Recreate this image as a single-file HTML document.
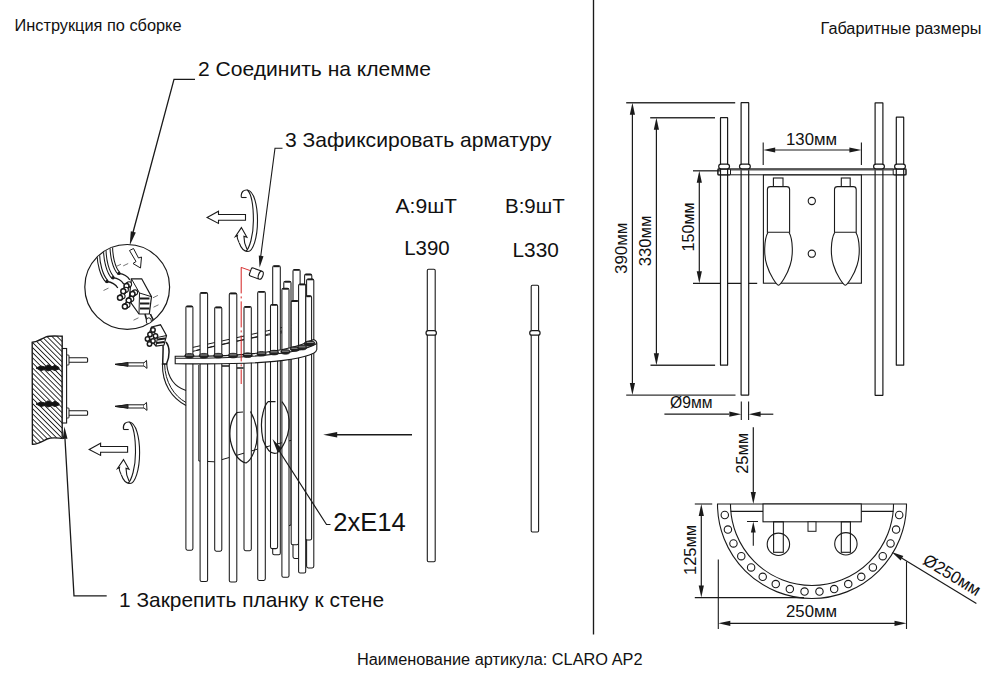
<!DOCTYPE html>
<html><head><meta charset="utf-8"><style>
html,body{margin:0;padding:0;background:#fff;}
svg{display:block;}
text{font-family:"Liberation Sans",sans-serif;fill:#111;}
</style></head><body>
<svg width="1000" height="690" viewBox="0 0 1000 690">
<rect width="1000" height="690" fill="#fff"/>
<text x="14.5" y="30.6" font-size="16" text-anchor="start" textLength="167" lengthAdjust="spacingAndGlyphs"  >Инструкция по сборке</text>
<text x="820.5" y="33.8" font-size="16" text-anchor="start" textLength="161" lengthAdjust="spacingAndGlyphs"  >Габаритные размеры</text>
<text x="357" y="664.6" font-size="16" text-anchor="start" textLength="285.5" lengthAdjust="spacingAndGlyphs"  >Наименование артикула: CLARO AP2</text>
<line x1="593.5" y1="0" x2="593.5" y2="634.5" stroke="#1a1a1a" stroke-width="1.35" />
<text x="198" y="76" font-size="21" text-anchor="start" textLength="233" lengthAdjust="spacingAndGlyphs"  >2 Соединить на клемме</text>
<text x="285" y="146.6" font-size="21" text-anchor="start" textLength="266.5" lengthAdjust="spacingAndGlyphs"  >3 Зафиксировать арматуру</text>
<text x="119" y="607.2" font-size="21" text-anchor="start" textLength="265" lengthAdjust="spacingAndGlyphs"  >1 Закрепить планку к стене</text>
<polyline points="195,79.4 174,79.4 131.5,238" stroke="#1a1a1a" stroke-width="1.3" fill="none" stroke-linejoin="miter"/>
<polygon points="129.70,245.40 130.80,231.20 135.82,232.54" fill="#1a1a1a"/>
<polyline points="282.5,148.2 275,148.2 260.5,258" stroke="#1a1a1a" stroke-width="1.1" fill="none" stroke-linejoin="miter"/>
<polygon points="259.60,267.80 258.75,255.59 263.51,256.20" fill="#1a1a1a"/>
<polyline points="106.7,595.8 74,595.8 65,439" stroke="#1a1a1a" stroke-width="1.3" fill="none" stroke-linejoin="miter"/>
<polygon points="64.40,426.50 67.50,438.84 62.71,439.12" fill="#1a1a1a"/>
<circle cx="127.2" cy="286.9" r="42.4" fill="white" stroke="#1a1a1a" stroke-width="1.2"/>
<defs><clipPath id="cc"><circle cx="127.2" cy="286.9" r="42.1"/></clipPath></defs><g clip-path="url(#cc)">
<path d="M98.3,250 C97.8,264 102,276.5 107,281.5" stroke="#1a1a1a" stroke-width="3.6" fill="none" />
<path d="M98.3,250 C97.8,264 102,276.5 107,281.5" stroke="white" stroke-width="1.5" fill="none" />
<path d="M104.8,246 C104.3,260 108,272.7 113,277.7" stroke="#1a1a1a" stroke-width="3.6" fill="none" />
<path d="M104.8,246 C104.3,260 108,272.7 113,277.7" stroke="white" stroke-width="1.5" fill="none" />
<path d="M111.3,242 C110.8,256 114,268.4 119,273.4" stroke="#1a1a1a" stroke-width="3.6" fill="none" />
<path d="M111.3,242 C110.8,256 114,268.4 119,273.4" stroke="white" stroke-width="1.5" fill="none" />
<circle cx="107" cy="281.5" r="1.7" fill="#1a1a1a"/>
<path d="M107,281.5 C111,282.0 115,283.5 117.8,288.0" stroke="#1a1a1a" stroke-width="1.3" fill="none" />
<circle cx="113" cy="277.7" r="1.7" fill="#1a1a1a"/>
<path d="M113,277.7 C117,278.2 121,279.7 123.8,284.2" stroke="#1a1a1a" stroke-width="1.3" fill="none" />
<circle cx="119" cy="273.4" r="1.7" fill="#1a1a1a"/>
<path d="M119,273.4 C123,273.9 127,275.4 129.8,279.9" stroke="#1a1a1a" stroke-width="1.3" fill="none" />
<path d="M131.4,278.8 L141.7,278.8 L151.5,296.7 L149.3,314 L139,314 L129,300 Z" stroke="#1a1a1a" stroke-width="1.2" fill="white" />
<path d="M131.4,278.8 L139.5,293 L151.5,296.7 M139.5,293 L139,314" stroke="#1a1a1a" stroke-width="1.0" fill="none" />
<line x1="140" y1="298.5" x2="149.5" y2="298.5" stroke="#1a1a1a" stroke-width="1.8" />
<line x1="140" y1="303.5" x2="149.5" y2="303.5" stroke="#1a1a1a" stroke-width="1.8" />
<line x1="140" y1="308.5" x2="149.5" y2="308.5" stroke="#1a1a1a" stroke-width="1.8" />
<circle cx="129.1" cy="284.29999999999995" r="2.5" fill="white" stroke="#1a1a1a" stroke-width="1.1"/>
<path d="M125.3,283.7 L127.9,282.09999999999997 M127.7,288.09999999999997 L130.3,286.5" stroke="#1a1a1a" stroke-width="1.1"/>
<circle cx="126.5" cy="285.9" r="2.5" fill="white" stroke="#1a1a1a" stroke-width="1.5"/>
<circle cx="125.89999999999999" cy="289.7" r="2.5" fill="white" stroke="#1a1a1a" stroke-width="1.1"/>
<path d="M122.1,289.1 L124.7,287.5 M124.5,293.5 L127.1,291.90000000000003" stroke="#1a1a1a" stroke-width="1.1"/>
<circle cx="123.3" cy="291.3" r="2.5" fill="white" stroke="#1a1a1a" stroke-width="1.5"/>
<circle cx="135.1" cy="292.4" r="2.5" fill="white" stroke="#1a1a1a" stroke-width="1.1"/>
<path d="M131.3,291.8 L133.9,290.2 M133.7,296.2 L136.3,294.6" stroke="#1a1a1a" stroke-width="1.1"/>
<circle cx="132.5" cy="294" r="2.5" fill="white" stroke="#1a1a1a" stroke-width="1.5"/>
<circle cx="122.6" cy="296.2" r="2.5" fill="white" stroke="#1a1a1a" stroke-width="1.1"/>
<path d="M118.8,295.6 L121.4,294.0 M121.2,300.0 L123.8,298.40000000000003" stroke="#1a1a1a" stroke-width="1.1"/>
<circle cx="120" cy="297.8" r="2.5" fill="white" stroke="#1a1a1a" stroke-width="1.5"/>
<circle cx="131.29999999999998" cy="298.9" r="2.5" fill="white" stroke="#1a1a1a" stroke-width="1.1"/>
<path d="M127.49999999999999,298.3 L130.1,296.7 M129.89999999999998,302.7 L132.5,301.1" stroke="#1a1a1a" stroke-width="1.1"/>
<circle cx="128.7" cy="300.5" r="2.5" fill="white" stroke="#1a1a1a" stroke-width="1.5"/>
<circle cx="127.5" cy="304.9" r="2.5" fill="white" stroke="#1a1a1a" stroke-width="1.1"/>
<path d="M123.7,304.3 L126.30000000000001,302.7 M126.10000000000001,308.7 L128.70000000000002,307.1" stroke="#1a1a1a" stroke-width="1.1"/>
<circle cx="124.9" cy="306.5" r="2.5" fill="white" stroke="#1a1a1a" stroke-width="1.5"/>
<path d="M145,314 C146,318 147,321 148.3,325 M150.4,314 C152,318 154,321 155.9,325" stroke="#1a1a1a" stroke-width="1.6" fill="none" />
<ellipse cx="148.8" cy="321" rx="2.6" ry="3.2" fill="white" stroke="#1a1a1a" stroke-width="1"/>
<path d="M129.5,250.5 L133.5,248.5 L138.5,258 L141.5,257 L140.5,268 L133,263.5 L136,261.5 Z" stroke="#1a1a1a" stroke-width="1.0" fill="white" />
<line x1="116.0" y1="266.59999999999997" x2="121.0" y2="264.2" stroke="#666" stroke-width="0.9"/>
<line x1="123.2" y1="265.9" x2="128.2" y2="263.5" stroke="#666" stroke-width="0.9"/>
<line x1="103.5" y1="290.5" x2="108.5" y2="288.1" stroke="#666" stroke-width="0.9"/>
<line x1="152.9" y1="297.8" x2="157.9" y2="295.40000000000003" stroke="#666" stroke-width="0.9"/>
<line x1="153.5" y1="307.2" x2="158.5" y2="304.8" stroke="#666" stroke-width="0.9"/>
<line x1="133.5" y1="320.2" x2="138.5" y2="317.8" stroke="#666" stroke-width="0.9"/>
</g>
<defs><pattern id="hatch" patternUnits="userSpaceOnUse" width="3.6" height="3.6" patternTransform="rotate(-45)"><line x1="0" y1="0" x2="0" y2="3.6" stroke="#111" stroke-width="1.7"/></pattern></defs>
<path d="M32.2,342.3 C38,342 41,339 46,336.8 C50,335.5 56,336 62.2,336.2 L62.2,438.4 C57,438 52,437 47,439 C41,442 37,444.5 32.4,444.2 Z" stroke="#1a1a1a" stroke-width="1.4" fill="url(#hatch)" />
<path d="M36,368 L41,366 L45,367 L48,364.8 L52,366.8 L55,365.2 L59,367.5 L59,369 L55,370.5 L52,369.5 L48,371 L45,369.5 L41,370.5 Z" stroke="#1a1a1a" stroke-width="1.0" fill="#111" />
<path d="M36,404 L41,402 L45,403 L48,400.8 L52,402.8 L55,401.2 L59,403.5 L59,405 L55,406.5 L52,405.5 L48,407 L45,405.5 L41,406.5 Z" stroke="#1a1a1a" stroke-width="1.0" fill="#111" />
<rect x="62.3" y="348.5" width="4.3" height="74.5" fill="white" stroke="#1a1a1a" stroke-width="1.1"/>
<rect x="66.6" y="357.8" width="21" height="4.4" rx="1" fill="white" stroke="#1a1a1a" stroke-width="1.1"/>
<rect x="66.6" y="355" width="2.4" height="10" rx="0.8" fill="white" stroke="#1a1a1a" stroke-width="1.0"/>
<rect x="66.6" y="410.8" width="21" height="4.4" rx="1" fill="white" stroke="#1a1a1a" stroke-width="1.1"/>
<rect x="66.6" y="408" width="2.4" height="10" rx="0.8" fill="white" stroke="#1a1a1a" stroke-width="1.0"/>
<path d="M115,364.4 L128,362.79999999999995 L144,362.79999999999995 L144,366.0 L128,366.0 Z" stroke="#1a1a1a" stroke-width="1.0" fill="white" />
<path d="M115,364.4 L128,362.59999999999997 L128,366.2 Z" stroke="#1a1a1a" stroke-width="1.0" fill="#333" />
<path d="M144,362.79999999999995 L146.5,360.4 L147,368.4 L144,366.0" stroke="#1a1a1a" stroke-width="1.0" fill="white" />
<path d="M115,406.4 L128,404.79999999999995 L144,404.79999999999995 L144,408.0 L128,408.0 Z" stroke="#1a1a1a" stroke-width="1.0" fill="white" />
<path d="M115,406.4 L128,404.59999999999997 L128,408.2 Z" stroke="#1a1a1a" stroke-width="1.0" fill="#333" />
<path d="M144,404.79999999999995 L146.5,402.4 L147,410.4 L144,408.0" stroke="#1a1a1a" stroke-width="1.0" fill="white" />
<g transform="translate(0.00,0.00)" stroke="#1a1a1a" stroke-width="1.1" fill="white">
<path d="M89.2,449.6 L100.6,443.3 L100.6,446.5 L127.6,446.5 L127.6,452.2 L100.6,452.2 L100.6,455.4 Z"/>
<path d="M123.5,429.5 C122.5,424 126,421.5 129.5,422 C136,423 139.6,437 139.6,452.5 C139.6,470 135,483.5 130,483.5 C126,483.5 123,480 121,474" fill="none"/>
<path d="M129.5,422 C133.5,426 135.5,438 135.5,452.5 C135.5,468 131.5,480 128,483.5" fill="none"/>
<path d="M123.5,429.5 L128.7,429.5" fill="none"/>
<path d="M121,474 C119.5,471 119,469 119.5,467.5 L117.5,468.5 L123.5,459.6 L129,469.3 L126,468.3 C126,472 127,477 129,481" fill="white"/>
</g>
<g transform="translate(117.90,-232.00)" stroke="#1a1a1a" stroke-width="1.1" fill="white">
<path d="M89.2,449.6 L100.6,443.3 L100.6,446.5 L127.6,446.5 L127.6,452.2 L100.6,452.2 L100.6,455.4 Z"/>
<path d="M123.5,429.5 C122.5,424 126,421.5 129.5,422 C136,423 139.6,437 139.6,452.5 C139.6,470 135,483.5 130,483.5 C126,483.5 123,480 121,474" fill="none"/>
<path d="M129.5,422 C133.5,426 135.5,438 135.5,452.5 C135.5,468 131.5,480 128,483.5" fill="none"/>
<path d="M123.5,429.5 L128.7,429.5" fill="none"/>
<path d="M121,474 C119.5,471 119,469 119.5,467.5 L117.5,468.5 L123.5,459.6 L129,469.3 L126,468.3 C126,472 127,477 129,481" fill="white"/>
</g>
<line x1="337" y1="434.8" x2="412" y2="434.8" stroke="#1a1a1a" stroke-width="1.5" />
<polygon points="323.20,434.80 337.20,432.00 337.20,437.60" fill="#1a1a1a"/>
<text x="395.5" y="213.2" font-size="20" text-anchor="start" textLength="61.5" lengthAdjust="spacingAndGlyphs"  >A:9шТ</text>
<text x="505" y="213.2" font-size="20" text-anchor="start" textLength="59.7" lengthAdjust="spacingAndGlyphs"  >B:9шТ</text>
<text x="404.2" y="254.5" font-size="20" text-anchor="start" textLength="45.5" lengthAdjust="spacingAndGlyphs"  >L390</text>
<text x="512.5" y="257" font-size="20" text-anchor="start" textLength="46.3" lengthAdjust="spacingAndGlyphs"  >L330</text>
<rect x="427.3" y="269.2" width="7.899999999999977" height="292.50000000000006" rx="1.2" fill="white" stroke="#1a1a1a" stroke-width="1.1"/>
<rect x="531.2" y="285.2" width="7.399999999999977" height="246.8" rx="1.2" fill="white" stroke="#1a1a1a" stroke-width="1.1"/>
<rect x="426.0" y="330.6" width="10.4" height="4.6" rx="2.3" fill="white" stroke="#1a1a1a" stroke-width="1.2"/>
<rect x="529.6999999999999" y="330.6" width="10.4" height="4.6" rx="2.3" fill="white" stroke="#1a1a1a" stroke-width="1.2"/>
<path d="M190,352 C220,345 260,336 311,324.5" stroke="#1a1a1a" stroke-width="1.0" fill="none" />
<path d="M190,348 C222,341 262,332 311,321" stroke="#1a1a1a" stroke-width="1.0" fill="none" />
<path d="M196,350.5 C224,343.5 262,335 311,328.5" stroke="#1a1a1a" stroke-width="1.0" fill="none" />
<rect x="272.7" y="265.8" width="7.60" height="289.0" rx="1.6" fill="white" stroke="#1a1a1a" stroke-width="1.05"/>
<line x1="273.5" y1="266.40000000000003" x2="279.5" y2="266.40000000000003" stroke="#1a1a1a" stroke-width="1.6"/>
<rect x="293.0" y="269.4" width="7.10" height="289.0" rx="1.6" fill="white" stroke="#1a1a1a" stroke-width="1.05"/>
<line x1="293.8" y1="270.0" x2="299.3" y2="270.0" stroke="#1a1a1a" stroke-width="1.6"/>
<rect x="304.6" y="274.1" width="7.20" height="244.2" rx="1.6" fill="white" stroke="#1a1a1a" stroke-width="1.05"/>
<line x1="305.40000000000003" y1="274.70000000000005" x2="311.0" y2="274.70000000000005" stroke="#1a1a1a" stroke-width="1.6"/>
<rect x="283.8" y="281.3" width="7.20" height="244.2" rx="1.6" fill="white" stroke="#1a1a1a" stroke-width="1.05"/>
<line x1="284.6" y1="281.90000000000003" x2="290.2" y2="281.90000000000003" stroke="#1a1a1a" stroke-width="1.6"/>
<rect x="306.6" y="278.9" width="7.20" height="289.0" rx="1.6" fill="white" stroke="#1a1a1a" stroke-width="1.05"/>
<line x1="307.40000000000003" y1="279.5" x2="313.0" y2="279.5" stroke="#1a1a1a" stroke-width="1.6"/>
<path d="M198.8,365 L198.8,461 L214.4,461.8 L229.6,457.4 L257.3,449.2 L300,438" stroke="#1a1a1a" stroke-width="1.0" fill="none" />
<path d="M221.7,366 L229.6,366 M236.5,368 L243.5,368" stroke="#1a1a1a" stroke-width="1.4" fill="none" />
<rect x="185.9" y="306.0" width="7.00" height="244.2" rx="1.6" fill="white" stroke="#1a1a1a" stroke-width="1.05"/>
<line x1="186.70000000000002" y1="306.6" x2="192.1" y2="306.6" stroke="#1a1a1a" stroke-width="1.6"/>
<rect x="200.1" y="292.5" width="7.50" height="289.0" rx="1.6" fill="white" stroke="#1a1a1a" stroke-width="1.05"/>
<line x1="200.9" y1="293.1" x2="206.79999999999998" y2="293.1" stroke="#1a1a1a" stroke-width="1.6"/>
<rect x="214.7" y="307.0" width="7.10" height="244.2" rx="1.6" fill="white" stroke="#1a1a1a" stroke-width="1.05"/>
<line x1="215.5" y1="307.6" x2="221.0" y2="307.6" stroke="#1a1a1a" stroke-width="1.6"/>
<rect x="229.3" y="293.0" width="7.50" height="289.0" rx="1.6" fill="white" stroke="#1a1a1a" stroke-width="1.05"/>
<line x1="230.10000000000002" y1="293.6" x2="236.0" y2="293.6" stroke="#1a1a1a" stroke-width="1.6"/>
<rect x="244.0" y="306.5" width="7.30" height="244.2" rx="1.6" fill="white" stroke="#1a1a1a" stroke-width="1.05"/>
<line x1="244.8" y1="307.1" x2="250.5" y2="307.1" stroke="#1a1a1a" stroke-width="1.6"/>
<rect x="257.7" y="291.4" width="7.60" height="289.0" rx="1.6" fill="white" stroke="#1a1a1a" stroke-width="1.05"/>
<line x1="258.5" y1="292.0" x2="264.5" y2="292.0" stroke="#1a1a1a" stroke-width="1.6"/>
<rect x="270.5" y="304.4" width="7.10" height="244.2" rx="1.6" fill="white" stroke="#1a1a1a" stroke-width="1.05"/>
<line x1="271.3" y1="305.0" x2="276.8" y2="305.0" stroke="#1a1a1a" stroke-width="1.6"/>
<rect x="281.9" y="288.3" width="7.10" height="289.0" rx="1.6" fill="white" stroke="#1a1a1a" stroke-width="1.05"/>
<line x1="282.7" y1="288.90000000000003" x2="288.2" y2="288.90000000000003" stroke="#1a1a1a" stroke-width="1.6"/>
<rect x="291.2" y="300.6" width="7.30" height="244.2" rx="1.6" fill="white" stroke="#1a1a1a" stroke-width="1.05"/>
<line x1="292.0" y1="301.20000000000005" x2="297.7" y2="301.20000000000005" stroke="#1a1a1a" stroke-width="1.6"/>
<rect x="298.6" y="284.0" width="7.10" height="289.0" rx="1.6" fill="white" stroke="#1a1a1a" stroke-width="1.05"/>
<line x1="299.40000000000003" y1="284.6" x2="304.9" y2="284.6" stroke="#1a1a1a" stroke-width="1.6"/>
<rect x="305.8" y="295.8" width="5.80" height="244.2" rx="1.6" fill="white" stroke="#1a1a1a" stroke-width="1.05"/>
<line x1="306.6" y1="296.40000000000003" x2="310.8" y2="296.40000000000003" stroke="#1a1a1a" stroke-width="1.6"/>
<path d="M175.2,356.2 C240,357 290,352 313.5,339.5 C316.5,340.5 316.8,342 316.8,343.5 L316.8,349.5 C316.5,351.5 315,352.5 313.5,353.3 C298,361 250,365 175.2,363.6 Z" stroke="#1a1a1a" stroke-width="1.1" fill="white" />
<path d="M175.2,358.2 C250,358.5 300,354 316.8,343.5" stroke="#1a1a1a" stroke-width="1.1" fill="none" />
<ellipse cx="189.40" cy="355.78" rx="4.6" ry="2.3" fill="#222" stroke="#1a1a1a" stroke-width="0.8"/>
<line x1="186.00" y1="355.08" x2="192.80" y2="355.08" stroke="#bbb" stroke-width="0.8"/>
<ellipse cx="203.85" cy="355.70" rx="4.6" ry="2.3" fill="#222" stroke="#1a1a1a" stroke-width="0.8"/>
<line x1="200.45" y1="355.00" x2="207.25" y2="355.00" stroke="#bbb" stroke-width="0.8"/>
<ellipse cx="218.25" cy="355.63" rx="4.6" ry="2.3" fill="#222" stroke="#1a1a1a" stroke-width="0.8"/>
<line x1="214.85" y1="354.93" x2="221.65" y2="354.93" stroke="#bbb" stroke-width="0.8"/>
<ellipse cx="233.05" cy="355.56" rx="4.6" ry="2.3" fill="#222" stroke="#1a1a1a" stroke-width="0.8"/>
<line x1="229.65" y1="354.86" x2="236.45" y2="354.86" stroke="#bbb" stroke-width="0.8"/>
<ellipse cx="247.65" cy="355.14" rx="4.6" ry="2.3" fill="#222" stroke="#1a1a1a" stroke-width="0.8"/>
<line x1="244.25" y1="354.44" x2="251.05" y2="354.44" stroke="#bbb" stroke-width="0.8"/>
<ellipse cx="261.50" cy="353.79" rx="4.6" ry="2.3" fill="#222" stroke="#1a1a1a" stroke-width="0.8"/>
<line x1="258.10" y1="353.09" x2="264.90" y2="353.09" stroke="#bbb" stroke-width="0.8"/>
<ellipse cx="274.05" cy="352.58" rx="4.6" ry="2.3" fill="#222" stroke="#1a1a1a" stroke-width="0.8"/>
<line x1="270.65" y1="351.88" x2="277.45" y2="351.88" stroke="#bbb" stroke-width="0.8"/>
<ellipse cx="285.45" cy="351.86" rx="4.6" ry="2.3" fill="#222" stroke="#1a1a1a" stroke-width="0.8"/>
<line x1="282.05" y1="351.16" x2="288.85" y2="351.16" stroke="#bbb" stroke-width="0.8"/>
<ellipse cx="294.85" cy="348.95" rx="4.6" ry="2.3" fill="#222" stroke="#1a1a1a" stroke-width="0.8"/>
<line x1="291.45" y1="348.25" x2="298.25" y2="348.25" stroke="#bbb" stroke-width="0.8"/>
<ellipse cx="302.15" cy="347.58" rx="4.6" ry="2.3" fill="#222" stroke="#1a1a1a" stroke-width="0.8"/>
<line x1="298.75" y1="346.88" x2="305.55" y2="346.88" stroke="#bbb" stroke-width="0.8"/>
<ellipse cx="308.70" cy="343.85" rx="4.6" ry="2.3" fill="#222" stroke="#1a1a1a" stroke-width="0.8"/>
<line x1="305.30" y1="343.15" x2="312.10" y2="343.15" stroke="#bbb" stroke-width="0.8"/>
<ellipse cx="310.20" cy="343.10" rx="4.6" ry="2.3" fill="#222" stroke="#1a1a1a" stroke-width="0.8"/>
<line x1="306.80" y1="342.40" x2="313.60" y2="342.40" stroke="#bbb" stroke-width="0.8"/>
<path d="M243,412 L237,412.5 C230,420 229,432 230.5,441 C233,452 238,461 246,463 C252,460 257,447 257.3,435 C257,424 253,416 250.5,411.5" stroke="#1a1a1a" stroke-width="1.2" fill="none" />
<path d="M268,401.7 L275.5,401.7 M282,401.7 C288,409 290,418 289,428 C288,437 283,448 277,453 C271,455 266,448 263,440 C261,430 261,420 263,413 C264,408 266,404 268,401.7" stroke="#1a1a1a" stroke-width="1.2" fill="none" />
<path d="M241.2,267.4 L241.2,384" stroke="#d42020" stroke-width="1.0" fill="none" stroke-dasharray="26,3,2,3"/>
<path d="M241.2,267.4 L250,270.5 L253,272" stroke="#d42020" stroke-width="0.9" fill="none" />
<g transform="translate(256,273.5) rotate(20)"><rect x="-6" y="-4.2" width="11" height="8.4" rx="1.5" fill="white" stroke="#1a1a1a" stroke-width="1.1"/><ellipse cx="5" cy="0" rx="2.2" ry="4.2" fill="white" stroke="#1a1a1a" stroke-width="1.1"/></g>
<polyline points="330.5,524.5 326.5,524.5 277,447.5" stroke="#1a1a1a" stroke-width="1.2" fill="none" stroke-linejoin="miter"/>
<polygon points="272.50,439.00 281.64,448.60 277.24,451.38" fill="#1a1a1a"/>
<text x="333.2" y="531" font-size="25" text-anchor="start" textLength="72.5" lengthAdjust="spacingAndGlyphs"  >2xE14</text>
<path d="M162.5,364 C162,384 172,398 186,405.5" stroke="#1a1a1a" stroke-width="1.1" fill="none" />
<path d="M164.6,364 C165,382 174,396 186,402.5" stroke="#1a1a1a" stroke-width="1.0" fill="none" />
<path d="M166.7,364 C168,378 175,387 186,390.5" stroke="#1a1a1a" stroke-width="1.1" fill="none" />
<path d="M161.8,364 L167.2,364" stroke="#1a1a1a" stroke-width="1.6" fill="none" />
<path d="M163,344 C163.5,352 162.5,358 162.8,364" stroke="#1a1a1a" stroke-width="1.5" fill="none" />
<path d="M166,342 C170,347 170,356 166.5,364" stroke="#1a1a1a" stroke-width="1.5" fill="none" />
<path d="M151.5,327 L160.5,324.8 L166.5,335.5 L164,345 L156,346 L148,337 Z" stroke="#1a1a1a" stroke-width="1.2" fill="white" />
<path d="M151.5,327 L157.5,337.5 L166.5,335.5 M157.5,337.5 L156,346" stroke="#1a1a1a" stroke-width="1.1" fill="none" />
<circle cx="153" cy="330" r="2.2" fill="white" stroke="#1a1a1a" stroke-width="1.5"/>
<circle cx="150" cy="334.5" r="2.2" fill="white" stroke="#1a1a1a" stroke-width="1.5"/>
<circle cx="155.5" cy="336" r="2.2" fill="white" stroke="#1a1a1a" stroke-width="1.5"/>
<circle cx="147.5" cy="339" r="2.2" fill="white" stroke="#1a1a1a" stroke-width="1.5"/>
<circle cx="153" cy="341" r="2.2" fill="white" stroke="#1a1a1a" stroke-width="1.5"/>
<circle cx="149.5" cy="344" r="2.2" fill="white" stroke="#1a1a1a" stroke-width="1.5"/>
<path d="M157.5,339.5 L165,338.5 M157,343 L164,342" stroke="#1a1a1a" stroke-width="1.8" fill="none" />
<line x1="626.2" y1="102.7" x2="735.2" y2="102.7" stroke="#333" stroke-width="1.4" />
<line x1="626.2" y1="395.1" x2="735.5" y2="395.1" stroke="#333" stroke-width="1.4" />
<line x1="632.4" y1="114" x2="632.4" y2="384" stroke="#1a1a1a" stroke-width="1.2" />
<polygon points="632.40,102.70 635.00,114.70 629.80,114.70" fill="#1a1a1a"/>
<polygon points="632.40,395.10 629.80,383.10 635.00,383.10" fill="#1a1a1a"/>
<text x="0" y="0" font-size="16" text-anchor="start" textLength="51.5" lengthAdjust="spacingAndGlyphs" transform="translate(627.2,274) rotate(-90)" >390мм</text>
<line x1="650.2" y1="117.7" x2="715" y2="117.7" stroke="#333" stroke-width="1.4" />
<line x1="650.5" y1="365.2" x2="715.1" y2="365.2" stroke="#333" stroke-width="1.4" />
<line x1="656.4" y1="129" x2="656.4" y2="354" stroke="#1a1a1a" stroke-width="1.2" />
<polygon points="656.40,117.70 659.00,129.70 653.80,129.70" fill="#1a1a1a"/>
<polygon points="656.40,365.20 653.80,353.20 659.00,353.20" fill="#1a1a1a"/>
<text x="0" y="0" font-size="16" text-anchor="start" textLength="50.6" lengthAdjust="spacingAndGlyphs" transform="translate(651,266.2) rotate(-90)" >330мм</text>
<line x1="693" y1="170.8" x2="724" y2="170.8" stroke="#333" stroke-width="1.4" />
<line x1="693" y1="283.3" x2="757.2" y2="283.3" stroke="#1a1a1a" stroke-width="1.2" />
<line x1="699.3" y1="182" x2="699.3" y2="272" stroke="#1a1a1a" stroke-width="1.2" />
<polygon points="699.30,170.80 701.90,182.80 696.70,182.80" fill="#1a1a1a"/>
<polygon points="699.30,283.30 696.70,271.30 701.90,271.30" fill="#1a1a1a"/>
<text x="0" y="0" font-size="16" text-anchor="start" textLength="48.9" lengthAdjust="spacingAndGlyphs" transform="translate(694,251.4) rotate(-90)" >150мм</text>
<rect x="720.5" y="117.7" width="7.100000000000023" height="247.5" rx="0.3" fill="white" stroke="#1a1a1a" stroke-width="1.2"/>
<rect x="741.1" y="102.7" width="7.600000000000023" height="292.40000000000003" rx="0.3" fill="white" stroke="#1a1a1a" stroke-width="1.2"/>
<rect x="875.1" y="102.8" width="7.7999999999999545" height="292.5" rx="0.3" fill="white" stroke="#1a1a1a" stroke-width="1.2"/>
<rect x="896.3" y="117.2" width="7.400000000000091" height="248.0" rx="0.3" fill="white" stroke="#1a1a1a" stroke-width="1.2"/>
<rect x="718" y="169" width="188" height="5.8" fill="none" stroke="#1a1a1a" stroke-width="1.0"/>
<line x1="730" y1="169.3" x2="893" y2="169.3" stroke="#555" stroke-width="2.2" />
<rect x="717.8" y="169" width="12.7" height="6" rx="1" fill="none" stroke="#1a1a1a" stroke-width="1.0"/>
<rect x="893.2" y="169" width="12.8" height="6" rx="1" fill="none" stroke="#1a1a1a" stroke-width="1.0"/>
<rect x="718.7" y="164.2" width="10.8" height="4.6" rx="2.3" fill="white" stroke="#1a1a1a" stroke-width="1.2"/>
<rect x="739.5" y="164.2" width="10.8" height="4.6" rx="2.3" fill="white" stroke="#1a1a1a" stroke-width="1.2"/>
<rect x="873.6" y="164.2" width="10.8" height="4.6" rx="2.3" fill="white" stroke="#1a1a1a" stroke-width="1.2"/>
<rect x="894.6" y="164.2" width="10.8" height="4.6" rx="2.3" fill="white" stroke="#1a1a1a" stroke-width="1.2"/>
<line x1="763.2" y1="142.5" x2="763.2" y2="165" stroke="#1a1a1a" stroke-width="1.1" />
<line x1="861.4" y1="142.5" x2="861.4" y2="165" stroke="#1a1a1a" stroke-width="1.1" />
<line x1="775" y1="150" x2="850" y2="150" stroke="#1a1a1a" stroke-width="1.2" />
<polygon points="763.20,150.00 775.20,147.40 775.20,152.60" fill="#1a1a1a"/>
<polygon points="861.40,150.00 849.40,152.60 849.40,147.40" fill="#1a1a1a"/>
<text x="786" y="144.8" font-size="16" text-anchor="start" textLength="51" lengthAdjust="spacingAndGlyphs"  >130мм</text>
<rect x="763.4" y="175" width="98" height="108.2" fill="white" stroke="#1a1a1a" stroke-width="1.1"/>
<path d="M768.0,232.3 C763.8,240 763.8,256 766.8,265 C769.8,275 776.5,285 778.5,285.2 C780.5,285 787.2,275 790.2,265 C793.2,256 793.2,240 789.0,232.3" fill="white" stroke="#1a1a1a" stroke-width="1.1"/>
<rect x="773.4" y="178" width="9.600000000000023" height="8.6" fill="white" stroke="#1a1a1a" stroke-width="1.1"/>
<path d="M767.4,232.3 L767.4,189.5 Q767.4,186.6 770.4,186.6 L786.6,186.6 Q789.6,186.6 789.6,189.5 L789.6,232.3 Z" fill="white" stroke="#1a1a1a" stroke-width="1.1"/>
<path d="M834.8,232.3 C830.4499999999999,240 830.4499999999999,256 833.4499999999999,265 C836.4499999999999,275 843.3,285 845.3,285.2 C847.3,285 854.15,275 857.15,265 C860.15,256 860.15,240 855.8,232.3" fill="white" stroke="#1a1a1a" stroke-width="1.1"/>
<rect x="841.3" y="178" width="8.900000000000091" height="8.6" fill="white" stroke="#1a1a1a" stroke-width="1.1"/>
<path d="M834.5,232.3 L834.5,189.5 Q834.5,186.6 837.5,186.6 L853.2,186.6 Q856.2,186.6 856.2,189.5 L856.2,232.3 Z" fill="white" stroke="#1a1a1a" stroke-width="1.1"/>
<circle cx="811.8" cy="201" r="3.6" fill="white" stroke="#1a1a1a" stroke-width="1.1"/>
<circle cx="811.8" cy="253.7" r="3.6" fill="white" stroke="#1a1a1a" stroke-width="1.1"/>
<line x1="741.3" y1="401.4" x2="741.3" y2="420" stroke="#1a1a1a" stroke-width="1.1" />
<line x1="748.6" y1="401.4" x2="748.6" y2="420" stroke="#1a1a1a" stroke-width="1.1" />
<line x1="664.4" y1="414.2" x2="729" y2="414.2" stroke="#1a1a1a" stroke-width="1.2" />
<polygon points="741.30,414.20 729.30,416.80 729.30,411.60" fill="#1a1a1a"/>
<line x1="760" y1="414.2" x2="773.3" y2="414.2" stroke="#1a1a1a" stroke-width="1.2" />
<polygon points="748.60,414.20 760.60,411.60 760.60,416.80" fill="#1a1a1a"/>
<text x="670" y="408.2" font-size="16" text-anchor="start" textLength="42.5" lengthAdjust="spacingAndGlyphs"  >Ø9мм</text>
<line x1="753.3" y1="427.2" x2="753.3" y2="492" stroke="#1a1a1a" stroke-width="1.2" />
<polygon points="753.30,504.00 750.70,492.00 755.90,492.00" fill="#1a1a1a"/>
<text x="0" y="0" font-size="16" text-anchor="start" textLength="40.8" lengthAdjust="spacingAndGlyphs" transform="translate(748,473.8) rotate(-90)" >25мм</text>
<path d="M717.5,504 A94.5,94.5 0 0 0 906.5,504 Z" fill="white" stroke="#1a1a1a" stroke-width="1.1"/>
<path d="M730.5,504 A81.5,81.5 0 0 0 893.5,504" fill="none" stroke="#1a1a1a" stroke-width="1.1"/>
<line x1="730.5" y1="511.4" x2="893.5" y2="511.4" stroke="#1a1a1a" stroke-width="1.1" />
<circle cx="899.21" cy="515.02" r="3.7" fill="white" stroke="#1a1a1a" stroke-width="1.1"/>
<circle cx="896.09" cy="529.61" r="3.7" fill="white" stroke="#1a1a1a" stroke-width="1.1"/>
<circle cx="890.54" cy="543.47" r="3.7" fill="white" stroke="#1a1a1a" stroke-width="1.1"/>
<circle cx="882.73" cy="556.19" r="3.7" fill="white" stroke="#1a1a1a" stroke-width="1.1"/>
<circle cx="872.88" cy="567.41" r="3.7" fill="white" stroke="#1a1a1a" stroke-width="1.1"/>
<circle cx="861.27" cy="576.79" r="3.7" fill="white" stroke="#1a1a1a" stroke-width="1.1"/>
<circle cx="848.25" cy="584.08" r="3.7" fill="white" stroke="#1a1a1a" stroke-width="1.1"/>
<circle cx="834.17" cy="589.06" r="3.7" fill="white" stroke="#1a1a1a" stroke-width="1.1"/>
<circle cx="819.46" cy="591.58" r="3.7" fill="white" stroke="#1a1a1a" stroke-width="1.1"/>
<circle cx="804.54" cy="591.58" r="3.7" fill="white" stroke="#1a1a1a" stroke-width="1.1"/>
<circle cx="789.83" cy="589.06" r="3.7" fill="white" stroke="#1a1a1a" stroke-width="1.1"/>
<circle cx="775.75" cy="584.08" r="3.7" fill="white" stroke="#1a1a1a" stroke-width="1.1"/>
<circle cx="762.73" cy="576.79" r="3.7" fill="white" stroke="#1a1a1a" stroke-width="1.1"/>
<circle cx="751.12" cy="567.41" r="3.7" fill="white" stroke="#1a1a1a" stroke-width="1.1"/>
<circle cx="741.27" cy="556.19" r="3.7" fill="white" stroke="#1a1a1a" stroke-width="1.1"/>
<circle cx="733.46" cy="543.47" r="3.7" fill="white" stroke="#1a1a1a" stroke-width="1.1"/>
<circle cx="727.91" cy="529.61" r="3.7" fill="white" stroke="#1a1a1a" stroke-width="1.1"/>
<circle cx="724.79" cy="515.02" r="3.7" fill="white" stroke="#1a1a1a" stroke-width="1.1"/>
<rect x="763" y="504" width="98.3" height="17.8" fill="white" stroke="#1a1a1a" stroke-width="1.1"/>
<circle cx="778.4" cy="544.3" r="11.2" fill="white" stroke="#1a1a1a" stroke-width="1.1"/>
<rect x="773.6" y="521.8" width="9.7" height="30.5" fill="none" stroke="#1a1a1a" stroke-width="1.1"/>
<circle cx="845.9" cy="543.8" r="11.2" fill="white" stroke="#1a1a1a" stroke-width="1.1"/>
<rect x="841.3" y="521.8" width="9.1" height="30.5" fill="none" stroke="#1a1a1a" stroke-width="1.1"/>
<rect x="808" y="521.8" width="8" height="9.5" fill="white" stroke="#1a1a1a" stroke-width="1.0"/>
<line x1="747" y1="521.5" x2="758" y2="521.5" stroke="#1a1a1a" stroke-width="1.0" />
<line x1="753.3" y1="532" x2="753.3" y2="545.8" stroke="#1a1a1a" stroke-width="1.1" />
<polygon points="753.30,521.50 755.70,532.50 750.90,532.50" fill="#1a1a1a"/>
<line x1="694.8" y1="504" x2="712.2" y2="504" stroke="#1a1a1a" stroke-width="1.1" />
<line x1="694.8" y1="597.6" x2="804" y2="597.6" stroke="#1a1a1a" stroke-width="1.1" />
<line x1="701.3" y1="515" x2="701.3" y2="586" stroke="#1a1a1a" stroke-width="1.2" />
<polygon points="701.30,504.00 703.90,516.00 698.70,516.00" fill="#1a1a1a"/>
<polygon points="701.30,597.60 698.70,585.60 703.90,585.60" fill="#1a1a1a"/>
<text x="0" y="0" font-size="16" text-anchor="start" textLength="50.2" lengthAdjust="spacingAndGlyphs" transform="translate(696.2,575) rotate(-90)" >125мм</text>
<line x1="718.3" y1="559.6" x2="718.3" y2="629" stroke="#1a1a1a" stroke-width="1.1" />
<line x1="906.5" y1="561.7" x2="906.5" y2="629" stroke="#1a1a1a" stroke-width="1.1" />
<line x1="730" y1="623.3" x2="895" y2="623.3" stroke="#1a1a1a" stroke-width="1.2" />
<polygon points="718.30,623.30 730.30,620.70 730.30,625.90" fill="#1a1a1a"/>
<polygon points="906.50,623.30 894.50,625.90 894.50,620.70" fill="#1a1a1a"/>
<text x="786" y="617.4" font-size="16" text-anchor="start" textLength="51" lengthAdjust="spacingAndGlyphs"  >250мм</text>
<line x1="902" y1="558.2" x2="976.4" y2="603.4" stroke="#1a1a1a" stroke-width="1.2" />
<polygon points="891.70,552.00 903.31,556.00 900.61,560.45" fill="#1a1a1a"/>
<text x="0" y="0" font-size="17" text-anchor="start" textLength="64" lengthAdjust="spacingAndGlyphs" transform="translate(921.8,563.2) rotate(31.5)" >Ø250мм</text>
</svg></body></html>
